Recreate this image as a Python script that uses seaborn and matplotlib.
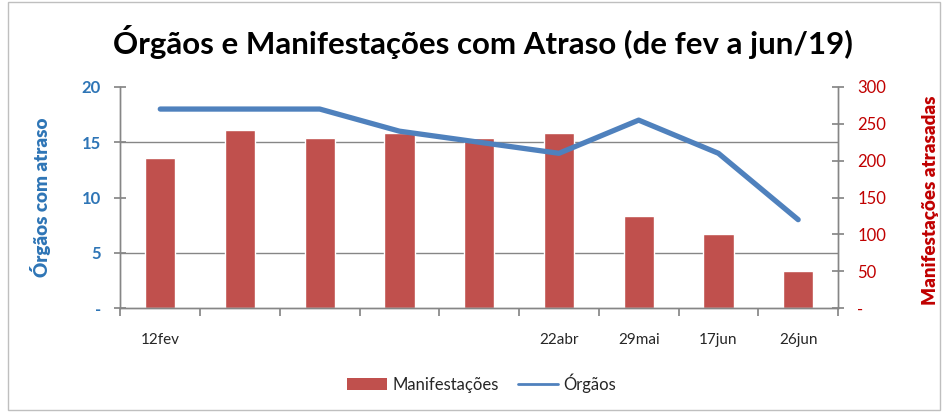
import numpy as np
import pandas as pd
import matplotlib.pyplot as plt
import seaborn as sns
from matplotlib.patches import Patch, Rectangle
from matplotlib.lines import Line2D

# data
dates = ["12fev", "", "", "", "", "22abr", "29mai", "17jun", "26jun"]
manifestacoes = [203, 242, 231, 237, 231, 237, 125, 100, 50]
orgaos = [18, 18, 18, 16, 15, 14, 17, 14, 8]
left_ticks = [0, 5, 10, 15, 20]
left_labels = ["-", "5", "10", "15", "20"]
right_ticks = [0, 50, 100, 150, 200, 250, 300]
right_labels = ["-", "50", "100", "150", "200", "250", "300"]

df = pd.DataFrame({"pos": range(len(dates)), "Manifestações": manifestacoes, "Órgãos": orgaos})

sns.set_theme(style="white")
plt.rcParams["font.family"] = ["Lato", "DejaVu Sans"]

bar_color = "#C0504D"
line_color = "#4F81BD"
blue_txt = "#2E75B6"
red_txt = "#C00000"
axis_gray = "#868686"

fig = plt.figure(figsize=(9.48, 4.12), dpi=100)
ax_bar = fig.add_axes([0.127, 0.252, 0.757, 0.537])
ax_line = ax_bar.twinx()

# bars on the right axis
sns.barplot(data=df, x="pos", y="Manifestações", color=bar_color, width=0.38,
            saturation=1, ax=ax_bar, zorder=2)
ax_bar.set_ylim(0, 300)
ax_bar.yaxis.tick_right()
ax_bar.yaxis.set_label_position("right")
ax_bar.set_yticks(right_ticks)
ax_bar.set_yticklabels(right_labels)
# gridlines follow the left axis ticks
ax_bar.set_yticks([t * 300 / 20 for t in left_ticks[1:]], minor=True)
ax_bar.grid(True, which="minor", axis="y", color=axis_gray, linewidth=1, zorder=0)
ax_bar.set_axisbelow(True)
ax_bar.tick_params(axis="y", which="minor", length=0)
ax_bar.tick_params(axis="y", which="major", direction="inout", length=8, color=axis_gray,
                   labelcolor=red_txt, labelsize=12, pad=10)
ax_bar.set_ylabel("Manifestações atrasadas", color=red_txt, fontsize=13.5, fontweight="heavy")
ax_bar.yaxis.set_label_coords(1.117, 0.49)

# x axis: ticks between categories, labels centered
ax_bar.set_xlim(-0.5, len(dates) - 0.5)
ax_bar.set_xticks(np.arange(-0.5, len(dates), 1))
ax_bar.set_xticklabels([])
ax_bar.set_xticks(range(len(dates)), minor=True)
ax_bar.set_xticklabels(dates, minor=True)
ax_bar.tick_params(axis="x", which="major", direction="out", length=6, color=axis_gray, bottom=True)
ax_bar.tick_params(axis="x", which="minor", length=0, labelsize=11, pad=18, bottom=True)
ax_bar.set_xlabel("")

# line on the left axis
sns.lineplot(data=df, x="pos", y="Órgãos", color=line_color, linewidth=3.8, ax=ax_line)
ax_line.set_ylim(0, 20)
ax_line.yaxis.tick_left()
ax_line.yaxis.set_label_position("left")
ax_line.set_yticks(left_ticks)
ax_line.set_yticklabels(left_labels, fontweight="bold")
ax_line.tick_params(axis="y", direction="inout", length=8, color=axis_gray,
                    labelcolor=blue_txt, labelsize=12, pad=10, left=True, right=False)
ax_line.set_ylabel("Órgãos com atraso", color=blue_txt, fontsize=13.5, fontweight="heavy")
ax_line.yaxis.set_label_coords(-0.097, 0.5)

for a in (ax_bar, ax_line):
    a.spines["top"].set_visible(False)
    for s in ("left", "right", "bottom"):
        a.spines[s].set_color(axis_gray)
        a.spines[s].set_linewidth(1)

fig.suptitle("Órgãos e Manifestações com Atraso (de fev a jun/19)", x=0.509, y=0.94,
             fontsize=22.5, fontweight="bold", color="black")

handles = [Patch(facecolor=bar_color, edgecolor="none"),
           Line2D([0], [0], color=line_color, linewidth=2)]
fig.legend(handles, ["Manifestações", "Órgãos"], loc="center", bbox_to_anchor=(0.508, 0.07),
           ncol=2, frameon=False, fontsize=12, handlelength=2.4, columnspacing=1.2, handletextpad=0.3)

fig.patches.append(Rectangle((0.008, 0.005), 0.984, 0.99, transform=fig.transFigure,
                             fill=False, edgecolor="#BFBFBF", linewidth=1))

fig.savefig("out.png", dpi=100)
